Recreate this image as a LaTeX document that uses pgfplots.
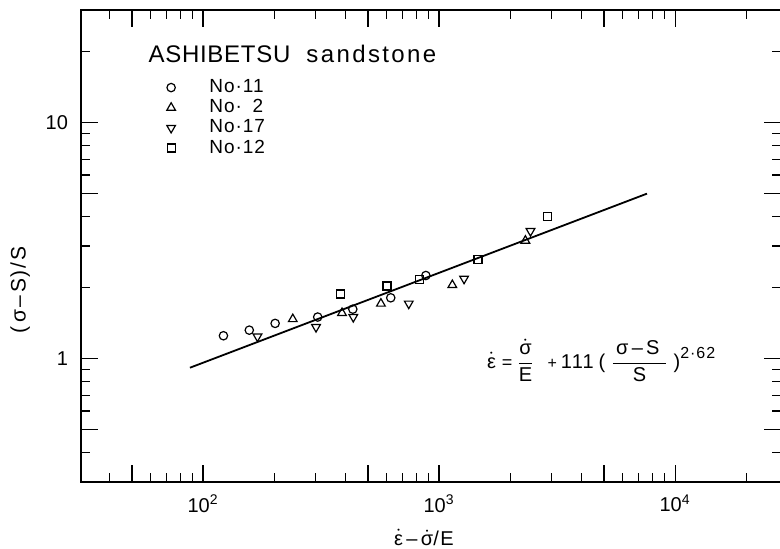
\documentclass[border=0pt]{standalone}
\usepackage{fontspec}
\setmainfont{Liberation Sans}
\usepackage{pgfplots}
\pgfplotsset{compat=1.18}

\begin{document}
\begin{tikzpicture}
\begin{axis}[name=ax,
  xmode=log, ymode=log,
  scale only axis, width=350pt, height=236pt,
  xmin=30.4, xmax=28100, ymin=0.3, ymax=30,
  axis line style={line width=1pt},
  tick style={line width=0.6pt, black},
  tick align=inside,
  major tick length=8.5pt, minor tick length=4.5pt,
  xtick={100,1000,10000},
  xticklabels={10\textsuperscript{2},10\textsuperscript{3},10\textsuperscript{4}},
  minor xtick={40,60,70,80,90,200,300,400,600,700,800,900,2000,3000,4000,6000,7000,8000,9000,20000},
  ytick={1,10}, yticklabels={1,10},
  minor ytick={0.4,0.6,0.7,0.8,0.9,2,3,4,6,7,8,9,20},
  extra x ticks={50,500,5000}, extra x tick labels={},
  extra y ticks={0.5,5}, extra y tick labels={},
  extra tick style={major tick length=8.5pt},
  ticklabel style={font=\fontsize{10}{12}\selectfont},
  xticklabel style={yshift=-3pt},
  yticklabel style={xshift=-3pt},
  xlabel={$\dot{\mbox{ε}}$\,–\,$\dot{\mbox{σ}}$/E},
  xlabel style={at={(rel axis cs:0.49,0)}, anchor=base, yshift=-31.5pt,
    font=\fontsize{10}{12}\selectfont\addfontfeatures{LetterSpace=8}},
  ylabel={(\,σ–\,S)/S},
  ylabel style={at={(rel axis cs:0,0.407)}, anchor=south, yshift=22pt,
    font=\fontsize{10.5}{12}\selectfont\addfontfeatures{LetterSpace=8}},
  legend style={at={(rel axis cs:0.122,0.862)}, anchor=north west, draw=none, fill=none,
    font=\fontsize{9.5}{11}\selectfont\addfontfeatures{LetterSpace=5},
    row sep=-2pt, column sep=15pt, inner sep=0pt},
  legend cell align=left,
  legend image code/.code={\draw[#1] plot coordinates {(0.2cm,0cm)};},
]
\addplot[only marks, mark=o, mark size=2.1pt, line width=0.6pt] coordinates {
(122,1.25) (157,1.32) (202,1.41) (306,1.50) (431,1.62) (624,1.81) (879,2.25)};
\addlegendentry{No·11}
\addplot[only marks, mark=triangle, mark size=2.5pt, line width=0.6pt] coordinates {
(240,1.47) (388,1.56) (567,1.71) (1138,2.05) (2321,3.16)};
\addlegendentry{No·\phantom{1}2}
\addplot[only marks, mark=triangle, mark size=2.5pt, line width=0.6pt, mark options={rotate=180}] coordinates {
(170,1.24) (301,1.36) (433,1.50) (744,1.71) (1276,2.18) (2439,3.47)};
\addlegendentry{No·17}
\addplot[only marks, mark=square, mark size=2pt, line width=0.6pt] coordinates {
(382,1.88) (602,2.03) (826,2.16) (1463,2.64) (2871,4.01)};
\addlegendentry{No·12}
\addplot[black, line width=0.9pt, forget plot] coordinates {(88,0.915) (7600,5.0)};
\node[anchor=north west, inner sep=0pt, font=\fontsize{12}{14}\selectfont]
  at (rel axis cs:0.096,0.926) {{\addfontfeatures{LetterSpace=3}ASHIBETSU}\hspace{8pt}{\addfontfeatures{LetterSpace=10}sandstone}};
\node[anchor=west, inner sep=0pt, font=\fontsize{10}{12}\selectfont\addfontfeatures{LetterSpace=6}] at (axis cs:1590,0.98)
  {$\displaystyle \dot{\mbox{ε}}\hspace{3pt}\mbox{\small =}\hspace{2pt}\frac{\dot{\mbox{σ}}}{\mbox{E}}\hspace{6.5pt}\mbox{\footnotesize +}\hspace{2pt}\mbox{111}\hspace{2.5pt}\mbox{(}\hspace{2.5pt}\frac{\mbox{\,σ\,–\,S\,\,}}{\mbox{S}}\hspace{2.5pt}\mbox{)}^{\mbox{\fontsize{8}{9}\selectfont\addfontfeatures{LetterSpace=6}2·62}}$};
\end{axis}
\pgfresetboundingbox
\path[use as bounding box] ([xshift=-40.5pt,yshift=-33pt]ax.south west) rectangle ([xshift=-0.5pt,yshift=5pt]ax.north east);
\end{tikzpicture}
\end{document}
